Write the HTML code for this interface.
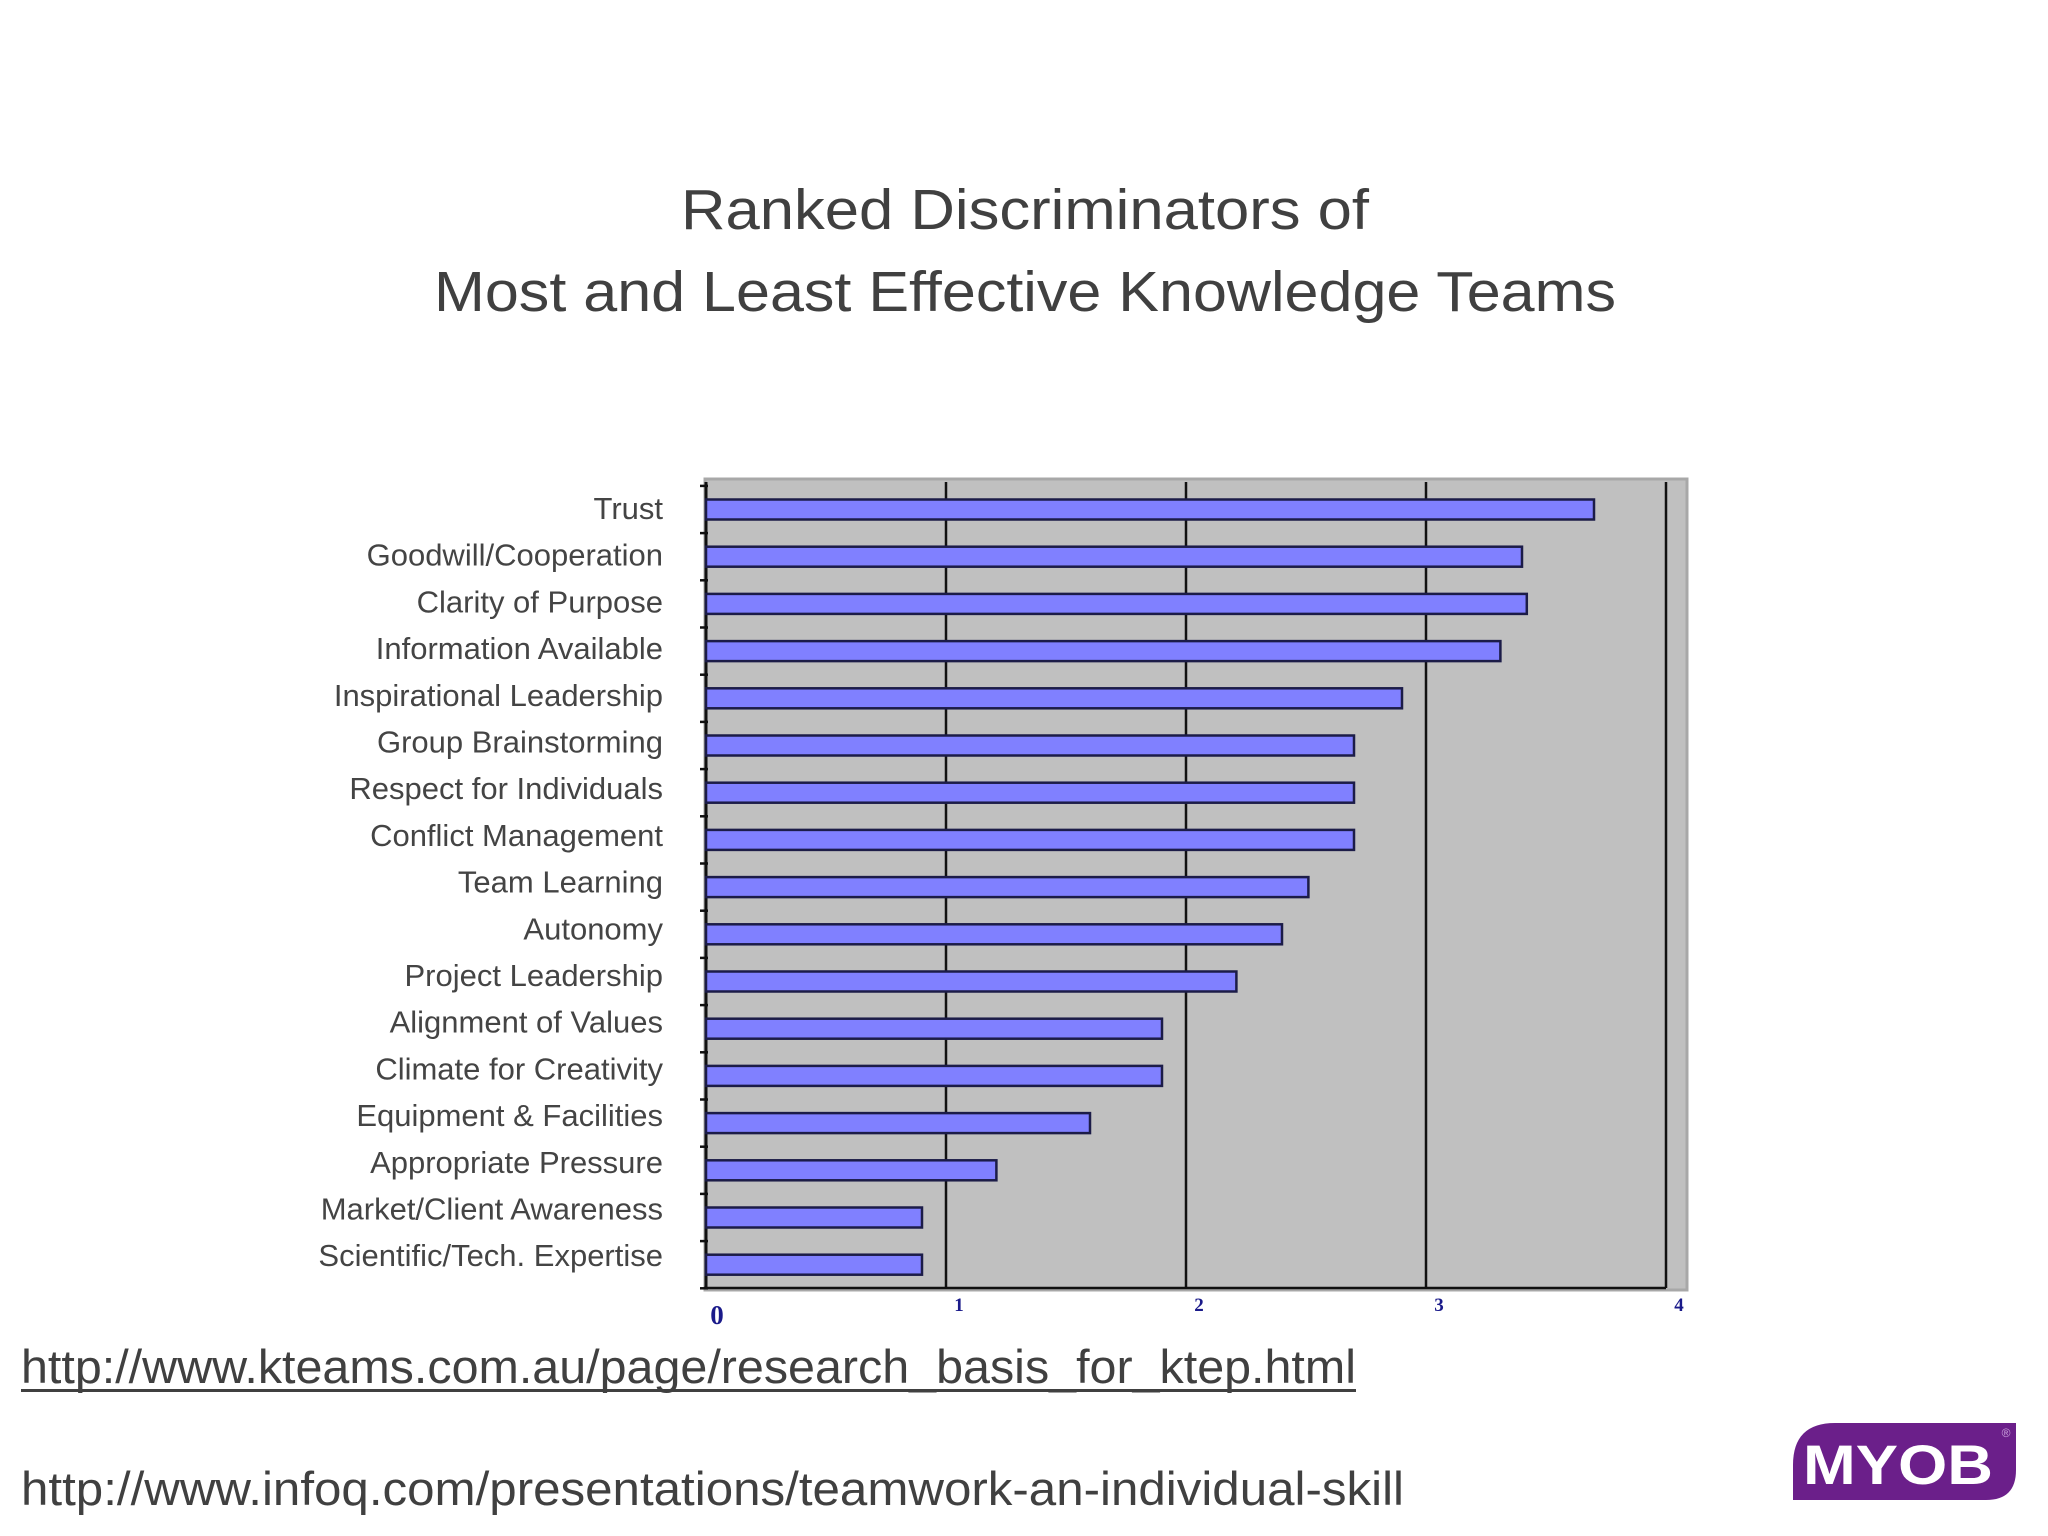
<!DOCTYPE html>
<html><head><meta charset="utf-8"><style>
html,body{margin:0;padding:0;background:#fff;}
svg{display:block;font-family:"Liberation Sans",sans-serif;}
</style></head><body>
<svg id="chart" width="2048" height="1536" viewBox="0 0 2048 1536">
<g fill="#404040" font-size="57" text-anchor="middle">
<text x="1025" y="229" textLength="688" lengthAdjust="spacingAndGlyphs">Ranked Discriminators of</text>
<text x="1025" y="311" textLength="1182" lengthAdjust="spacingAndGlyphs">Most and Least Effective Knowledge Teams</text>
</g>
<rect x="705" y="479" width="982" height="811" fill="#c0c0c0" stroke="#a8a8a8" stroke-width="3"/>
<g id="grid"></g>
<g id="bars"></g>
<g id="labels" fill="#444" font-size="31" text-anchor="end"></g>
<g id="xticks" fill="#1a1a8a" font-family="Liberation Serif, serif" font-weight="bold" font-size="19" text-anchor="middle"></g>
<g fill="#404040" font-size="47">
<text x="21" y="1383" textLength="1335" lengthAdjust="spacingAndGlyphs">http://www.kteams.com.au/page/research_basis_for_ktep.html</text>
<rect x="21" y="1389" width="1335" height="3" fill="#404040"/>
<text x="21" y="1505" textLength="1383" lengthAdjust="spacingAndGlyphs">http://www.infoq.com/presentations/teamwork-an-individual-skill</text>
</g>
<g>
<path d="M1835 1423 H2016 V1470 Q2016 1500 1986 1500 H1793 V1465 Q1793 1423 1835 1423 Z" fill="#6b1f8a"/>
<text x="1898" y="1484" fill="#fff" font-size="56" font-weight="bold" text-anchor="middle" textLength="190" lengthAdjust="spacingAndGlyphs">MYOB</text>
<text x="2006" y="1437" fill="#c9a0dc" font-size="12" text-anchor="middle">®</text>
</g>
</svg>
<script>
const categories = ["Trust","Goodwill/Cooperation","Clarity of Purpose","Information Available","Inspirational Leadership","Group Brainstorming","Respect for Individuals","Conflict Management","Team Learning","Autonomy","Project Leadership","Alignment of Values","Climate for Creativity","Equipment & Facilities","Appropriate Pressure","Market/Client Awareness","Scientific/Tech. Expertise"];
const values = [3.70,3.40,3.42,3.31,2.90,2.70,2.70,2.70,2.51,2.40,2.21,1.90,1.90,1.60,1.21,0.90,0.90];
const tickValues = [0,1,2,3,4];
const tickLabels = ["0","1","2","3","4"];

const NS = "http://www.w3.org/2000/svg";
const X0 = 706, XUNIT = 240, Y0 = 509.5, YSTEP = 47.2, BARH = 20;
const LY0 = 508, LSTEP = 46.7;
function xs(v){ return X0 + v * XUNIT; }
function ys(i){ return Y0 + i * YSTEP; }
function ly(i){ return LY0 + i * LSTEP; }
function mk(tag, attrs){ const e = document.createElementNS(NS, tag); for (const k in attrs) e.setAttribute(k, attrs[k]); return e; }

const grid = document.getElementById('grid');
tickValues.forEach((t, i) => {
  const l = mk('line', {x1: xs(t), x2: xs(t), y1: 482, y2: 1288, stroke: '#111', 'stroke-width': t === 0 ? 3 : 2.5});
  
  
  grid.appendChild(l);
});
const ax = mk('line', {x1: 704, x2: 1666, y1: 1288, y2: 1288, stroke: '#111', 'stroke-width': 2.5});


grid.appendChild(ax);
for (let i = 0; i <= categories.length; i++) {
  const tk = mk('line', {x1: 700, x2: 708, y1: ys(i) - YSTEP / 2, y2: ys(i) - YSTEP / 2, stroke: '#111', 'stroke-width': 2.5});
  
  
  grid.appendChild(tk);
}

const bars = document.getElementById('bars');
const labels = document.getElementById('labels');
categories.forEach((c, i) => {
  const r = mk('rect', {x: xs(0), y: ys(i) - BARH / 2, width: xs(values[i]) - xs(0), height: BARH, fill: '#8080ff', stroke: '#1c1c48', 'stroke-width': 2.5});
  
  
  bars.appendChild(r);
  const t = mk('text', {x: 663, y: ly(i) + 11});
  t.textContent = c;
  
  
  labels.appendChild(t);
});

const xt = document.getElementById('xticks');
tickValues.forEach((t, i) => {
  const e = mk('text', {x: xs(t) + (t === 0 ? 11 : 13), y: t === 0 ? 1324 : 1311, 'font-size': t === 0 ? 27 : 19});
  e.textContent = tickLabels[i];
  
  
  xt.appendChild(e);
});
</script>
</body></html>
